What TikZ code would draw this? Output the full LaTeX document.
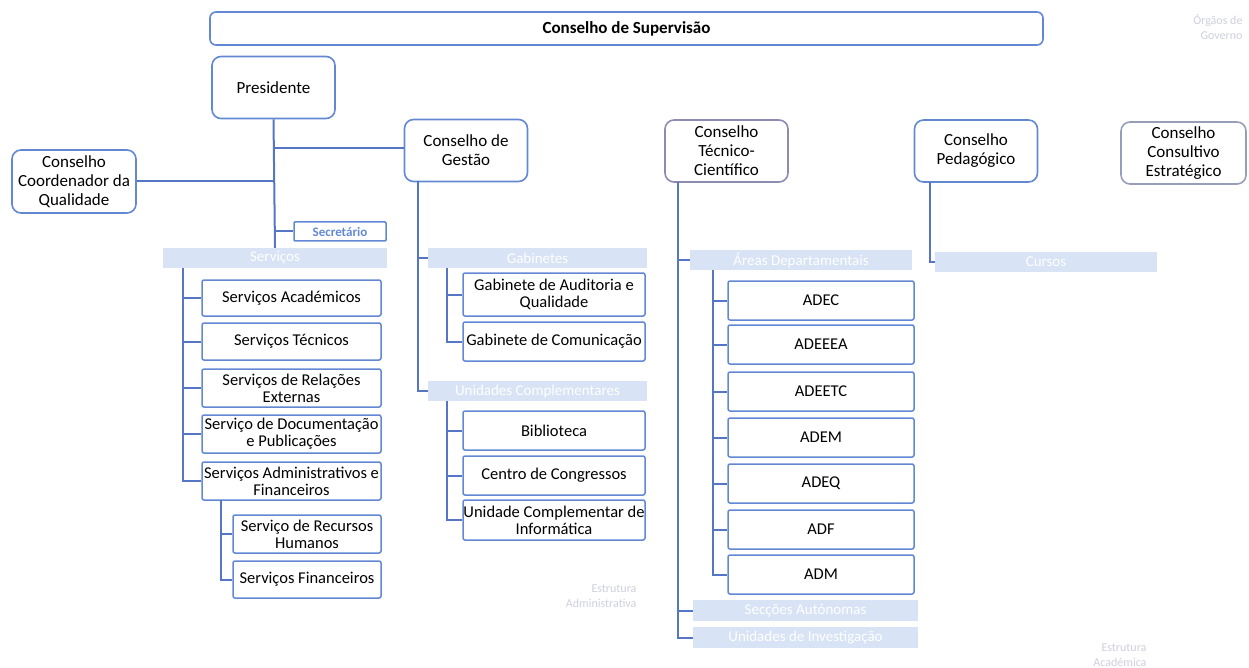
\documentclass[tikz,border=0pt]{standalone}
\usepackage{fontspec}
\setmainfont{Carlito}
\definecolor{boxblue}{RGB}{98,136,212}
\definecolor{lineblue}{RGB}{84,118,196}
\definecolor{barblue}{RGB}{216,227,246}
\definecolor{ghost}{RGB}{205,208,220}
\definecolor{ctcgray}{RGB}{140,140,178}
\definecolor{ccegray}{RGB}{150,158,184}
\tikzset{
  topbox/.style={draw=boxblue, line width=1.6pt, rounded corners=9pt, fill=white, align=center, inner sep=0pt,
    minimum width=123pt, minimum height=62pt, font=\fontsize{17}{19}\selectfont},
  unitbox/.style={draw=boxblue, line width=1.5pt, rounded corners=2pt, fill=white, align=center, inner sep=0pt,
    font=\fontsize{16.5}{17}\selectfont},
  bar/.style={fill=barblue, text=white, inner sep=0pt, minimum height=20pt, font=\fontsize{15}{15}\selectfont},
  link/.style={draw=lineblue, line width=2pt},
  ghosttext/.style={text=ghost, align=right, font=\fontsize{12}{15}\selectfont}
}
\begin{document}
\begin{tikzpicture}[x=1pt,y=-1pt]
\useasboundingbox (0,0) rectangle (1249,668);

% orgaos de governo
\node[draw=boxblue, line width=1.6pt, rounded corners=6pt, minimum width=833pt, minimum height=33pt, inner sep=0pt,
  font=\bfseries\fontsize{17}{18}\selectfont] (sup) at (626.5,28.5) {Conselho de Supervisão};
\node[ghosttext, anchor=north east] (og) at (1246,11) {Órgãos de\\Governo};

\node[topbox] (pres) at (273.5,87.5) {Presidente};
\node[topbox, minimum width=124pt, minimum height=63pt] (ccq) at (74,181.5) {Conselho\\Coordenador da\\Qualidade};
\node[topbox] (gest) at (466,150.5) {Conselho de\\Gestão};
\node[topbox, draw=ctcgray] (ctc) at (726.5,151) {Conselho\\Técnico-\\Científico};
\node[topbox] (ped) at (976,151) {Conselho\\Pedagógico};
\node[topbox, draw=ccegray, minimum width=125pt] (cce) at (1183.5,153) {Conselho\\Consultivo\\Estratégico};

% presidente
\node[draw=boxblue, line width=1.5pt, rounded corners=1pt, minimum width=92pt, minimum height=19pt, inner sep=0pt,
  text=boxblue, font=\bfseries\fontsize{13}{14}\selectfont] (sec) at (340,231.5) {Secretário};
\node[bar, minimum width=224pt] (serv) at (275,258) {Serviços};
\draw[link] (pres.south) -- (serv.north);
\draw[link] (ccq.east) -- (ccq.east -| pres.south);
\draw[link] (pres.south |- 0,148) -- (gest.west |- 0,148);
\draw[link] (sec.west -| pres.south) -- (sec.west);

% servicos
\node[unitbox, minimum width=179pt, minimum height=36pt] (sacad) at (291.5,298) {Serviços Académicos};
\node[unitbox, minimum width=179pt, minimum height=37pt] (stec) at (291.5,341.5) {Serviços Técnicos};
\node[unitbox, minimum width=179pt, minimum height=38pt] (srex) at (291.5,388) {Serviços de Relações\\Externas};
\node[unitbox, minimum width=179pt, minimum height=38pt] (sdoc) at (291.5,434) {Serviço de Documentação\\e Publicações};
\node[unitbox, minimum width=179pt, minimum height=38pt] (saf) at (291.5,481) {Serviços Administrativos e\\Financeiros};
\node[unitbox, minimum width=148pt, minimum height=38pt] (srh) at (307,534) {Serviço de Recursos\\Humanos};
\node[unitbox, minimum width=148pt, minimum height=37pt] (sfin) at (307,579.5) {Serviços Financeiros};
\coordinate (servtr) at (183,268);
\foreach \n in {sacad,stec,srex,sdoc,saf}
  \draw[link] (servtr) |- (\n.west);
\coordinate (saftr) at (221,500);
\foreach \n in {srh,sfin}
  \draw[link] (saftr) |- (\n.west);

% conselho de gestao
\node[bar, minimum width=219pt] (gab) at (537.5,258) {Gabinetes};
\node[bar, minimum width=219pt] (ucomp) at (537.5,391) {Unidades Complementares};
\coordinate (gesttr) at (418,181);
\draw[link] (gesttr) |- (gab.west);
\draw[link] (gesttr) |- (ucomp.west);
\node[unitbox, minimum width=182pt, minimum height=43pt] (gaq) at (554,294.5) {Gabinete de Auditoria e\\Qualidade};
\node[unitbox, minimum width=182pt, minimum height=39pt] (gcom) at (554,341.5) {Gabinete de Comunicação};
\node[unitbox, minimum width=182pt, minimum height=39pt] (bib) at (554,430.5) {Biblioteca};
\node[unitbox, minimum width=182pt, minimum height=39pt] (ccong) at (554,475.5) {Centro de Congressos};
\node[unitbox, minimum width=182pt, minimum height=40pt] (uci) at (554,520) {Unidade Complementar de\\Informática};
\coordinate (gabtr) at (447,268);
\foreach \n in {gaq,gcom}
  \draw[link] (gabtr) |- (\n.west);
\coordinate (uctr) at (447,401);
\foreach \n in {bib,ccong,uci}
  \draw[link] (uctr) |- (\n.west);
\node[ghosttext, anchor=north east] (eadm) at (640,581) {Estrutura\\Administrativa};

% conselho tecnico-cientifico
\node[bar, minimum width=222pt] (adep) at (801,260) {Áreas Departamentais};
\node[bar, minimum width=225pt, minimum height=21pt] (secaut) at (805.5,610.5) {Secções Autónomas};
\node[bar, minimum width=225pt, minimum height=21pt] (uinv) at (805.5,637.5) {Unidades de Investigação};
\coordinate (ctctr) at (678,182);
\foreach \n in {adep,secaut,uinv}
  \draw[link] (ctctr) |- (\n.west);
\coordinate (adeptr) at (713,270);
\foreach \n/\y/\t in {adec/300.5/ADEC, adeeea/344.5/ADEEEA, adeetc/391.5/ADEETC, adem/437.5/ADEM,
                      adeq/483.5/ADEQ, adf/529.5/ADF, adm/574.5/ADM} {
  \node[unitbox, minimum width=186pt, minimum height=39pt] (\n) at (821,\y) {\t};
  \draw[link] (adeptr) |- (\n.west);
}

% conselho pedagogico
\node[bar, minimum width=222pt] (curs) at (1046,262) {Cursos};
\draw[link] (930,182) |- (curs.west);
\node[ghosttext, anchor=north east] (eac) at (1150,640) {Estrutura\\Académica};
\end{tikzpicture}
\end{document}
